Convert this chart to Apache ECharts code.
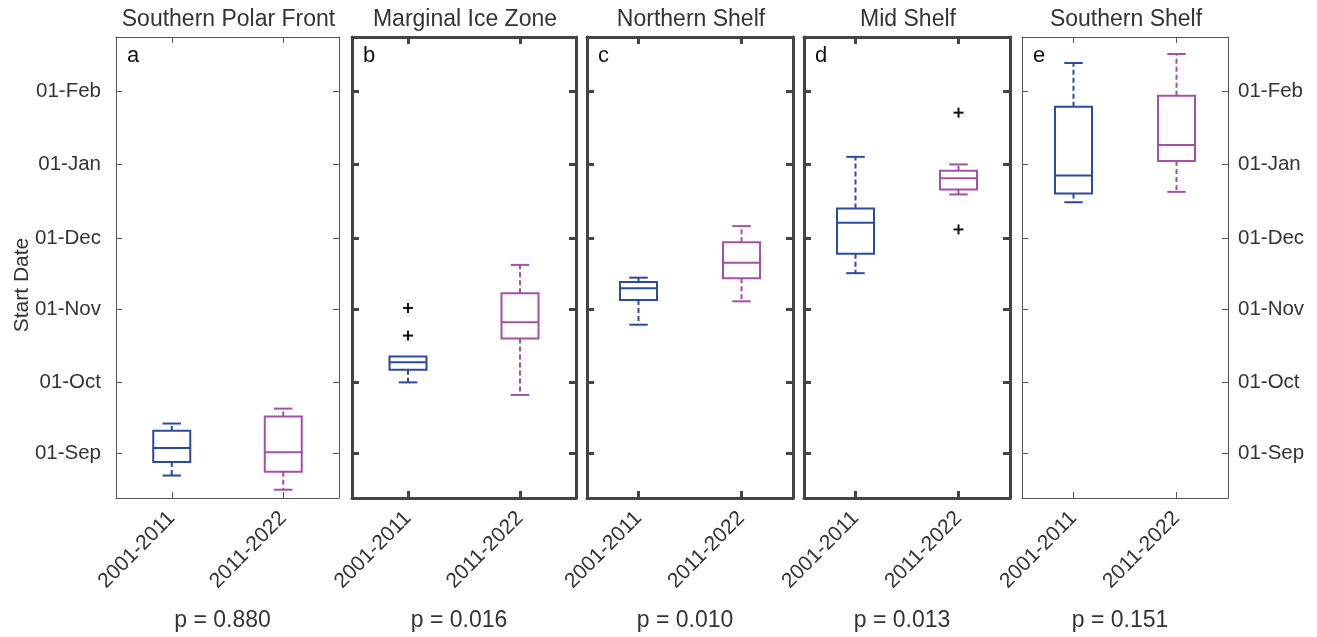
<!DOCTYPE html>
<html>
<head>
<meta charset="utf-8">
<script src="https://cdn.jsdelivr.net/npm/echarts@6/dist/echarts.min.js"></script>
<style>
html,body{margin:0;padding:0;background:#fff;}
#chart{width:1317px;height:637px;}
</style>
</head>
<body>
<div id="chart"></div>
<script>
// ---------- data ----------
const categories = ['2001-2011', '2011-2022'];
const panelTitles = ['Southern Polar Front', 'Marginal Ice Zone', 'Northern Shelf', 'Mid Shelf', 'Southern Shelf'];
const panelLetters = ['a', 'b', 'c', 'd', 'e'];
const pValues = ['p = 0.880', 'p = 0.016', 'p = 0.010', 'p = 0.013', 'p = 0.151'];
// y values are days after 01-Sep
const tickDays = [0, 30, 61, 91, 122, 153];
const tickLabels = ['01-Sep', '01-Oct', '01-Nov', '01-Dec', '01-Jan', '01-Feb'];
// box stats: [min whisker, Q1, median, Q3, max whisker]
const spfEarly = [-9.5, -3.8, 2.2, 9.4, 12.5];
const spfLate = [-15.5, -7.9, 0.3, 15.5, 18.8];
const mizEarly = [29.9, 35.3, 38.4, 40.9, 40.9];
const mizLate = [24.6, 48.5, 55.3, 67.6, 79.6];
const nsEarly = [54.3, 64.8, 69.7, 72.4, 74.2];
const nsLate = [64.2, 73.9, 80.5, 89.2, 96.0];
const msEarly = [76.1, 84.3, 97.4, 103.5, 125.3];
const msLate = [109.4, 111.5, 116.2, 119.4, 122.1];
const ssEarly = [106.1, 109.8, 117.4, 146.5, 165.0];
const ssLate = [110.5, 123.5, 130.3, 151.2, 168.8];
// outliers: [category index, day]
const mizOutliers = [[0, 61.4], [0, 49.7]];
const msOutliers = [[1, 144.0], [1, 94.6]];

const panelBoxes = [
  [spfEarly, spfLate],
  [mizEarly, mizLate],
  [nsEarly, nsLate],
  [msEarly, msLate],
  [ssEarly, ssLate]
];
const panelOutliers = [[], mizOutliers, [], msOutliers, []];

// ---------- layout / style ----------
const boxColors = ['#2c4a9e', '#a54fa6'];
const panelLeft = [116, 352, 587, 804, 1022];
const panelWidth = [223, 224, 206, 206, 206];
const panelTop = 37, panelHeight = 461;
const thick = [false, true, true, true, false];
const yMin = -19, yMax = 176;
const FONT = '"Liberation Sans", Arial, Helvetica, sans-serif';
const textColor = '#333333';
const BOX_W = 37;

function renderBox(params, api) {
  const xi = api.value(0);
  const pMin = api.coord([xi, api.value(1)]);
  const pQ1 = api.coord([xi, api.value(2)]);
  const pMed = api.coord([xi, api.value(3)]);
  const pQ3 = api.coord([xi, api.value(4)]);
  const pMax = api.coord([xi, api.value(5)]);
  const color = boxColors[xi];
  const cx = pMed[0];
  const hw = BOX_W / 2, cw = BOX_W / 4;
  const solid = {stroke: color, lineWidth: 2, fill: null};
  const dashed = {stroke: color, lineWidth: 2, fill: null, lineDash: [5, 3]};
  const children = [];
  if (pMax[1] < pQ3[1] - 0.5) {
    children.push({type: 'line', shape: {x1: cx, y1: pQ3[1], x2: cx, y2: pMax[1]}, style: dashed});
    children.push({type: 'line', shape: {x1: cx - cw, y1: pMax[1], x2: cx + cw, y2: pMax[1]}, style: solid});
  }
  if (pMin[1] > pQ1[1] + 0.5) {
    children.push({type: 'line', shape: {x1: cx, y1: pQ1[1], x2: cx, y2: pMin[1]}, style: dashed});
    children.push({type: 'line', shape: {x1: cx - cw, y1: pMin[1], x2: cx + cw, y2: pMin[1]}, style: solid});
  }
  children.push({type: 'rect', shape: {x: cx - hw, y: pQ3[1], width: BOX_W, height: pQ1[1] - pQ3[1]}, style: solid});
  children.push({type: 'line', shape: {x1: cx - hw, y1: pMed[1], x2: cx + hw, y2: pMed[1]}, style: solid});
  return {type: 'group', children: children};
}

function renderPlus(params, api) {
  const p = api.coord([api.value(0), api.value(1)]);
  const s = 5;
  const st = {stroke: '#111', lineWidth: 2};
  return {type: 'group', children: [
    {type: 'line', shape: {x1: p[0] - s, y1: p[1], x2: p[0] + s, y2: p[1]}, style: st},
    {type: 'line', shape: {x1: p[0], y1: p[1] - s, x2: p[0], y2: p[1] + s}, style: st}
  ]};
}

function tickLabel(v) {
  let best = 0;
  for (let i = 0; i < tickDays.length; i++) {
    if (Math.abs(tickDays[i] - v) < Math.abs(tickDays[best] - v)) best = i;
  }
  return tickLabels[best];
}

const grids = [], xAxes = [], yAxes = [], series = [], graphics = [];
for (let i = 0; i < 5; i++) {
  const lw = thick[i] ? 3 : 1;
  const lc = thick[i] ? '#444444' : '#555555';
  const tl = thick[i] ? 7 : 6;
  grids.push({left: panelLeft[i], top: panelTop, width: panelWidth[i], height: panelHeight, containLabel: false});
  const lineStyle = {color: lc, width: lw};
  xAxes.push({
    type: 'category', gridIndex: i, data: categories, position: 'bottom', boundaryGap: true,
    axisLine: {show: true, onZero: false, lineStyle: lineStyle},
    axisTick: {show: true, inside: true, alignWithLabel: true, length: tl, lineStyle: lineStyle},
    axisLabel: {show: true, rotate: 45, fontSize: 21, fontFamily: FONT, color: textColor, margin: 17, interval: 0},
    splitLine: {show: false}
  });
  xAxes.push({
    type: 'category', gridIndex: i, data: categories, position: 'top', boundaryGap: true,
    axisLine: {show: true, onZero: false, lineStyle: lineStyle},
    axisTick: {show: true, inside: true, alignWithLabel: true, length: tl, lineStyle: lineStyle},
    axisLabel: {show: false},
    splitLine: {show: false}
  });
  yAxes.push({
    type: 'value', gridIndex: i, position: 'left', min: yMin, max: yMax,
    axisLine: {show: true, onZero: false, lineStyle: lineStyle},
    axisTick: {show: true, inside: true, length: tl, lineStyle: lineStyle, customValues: tickDays},
    axisLabel: {show: i === 0, customValues: tickDays, formatter: tickLabel, fontSize: 20.5, fontFamily: FONT, color: textColor, margin: 15},
    splitLine: {show: false}
  });
  yAxes.push({
    type: 'value', gridIndex: i, position: 'right', min: yMin, max: yMax,
    axisLine: {show: true, onZero: false, lineStyle: lineStyle},
    axisTick: {show: true, inside: true, length: tl, lineStyle: lineStyle, customValues: tickDays},
    axisLabel: {show: i === 4, customValues: tickDays, formatter: tickLabel, fontSize: 20.5, fontFamily: FONT, color: textColor, margin: 10},
    splitLine: {show: false}
  });
  series.push({
    type: 'custom', xAxisIndex: 2 * i, yAxisIndex: 2 * i, silent: true, z: 5,
    data: panelBoxes[i].map((b, k) => [k].concat(b)),
    encode: {x: 0, y: [1, 2, 3, 4, 5]},
    renderItem: renderBox
  });
  if (panelOutliers[i].length) {
    series.push({
      type: 'custom', xAxisIndex: 2 * i, yAxisIndex: 2 * i, silent: true, z: 6,
      data: panelOutliers[i],
      encode: {x: 0, y: 1},
      renderItem: renderPlus
    });
  }
  const cxp = panelLeft[i] + panelWidth[i] / 2;
  graphics.push({type: 'text', x: cxp + 1, y: 20, style: {text: panelTitles[i], font: '23px ' + FONT, fill: textColor, align: 'center', verticalAlign: 'middle'}});
  graphics.push({type: 'text', x: panelLeft[i] + 11, y: 45, style: {text: panelLetters[i], font: '22px ' + FONT, fill: '#111', align: 'left', verticalAlign: 'top'}});
  graphics.push({type: 'text', x: cxp - 5, y: 621, style: {text: pValues[i], font: '23px ' + FONT, fill: textColor, align: 'center', verticalAlign: 'middle'}});
}
graphics.push({type: 'text', x: 22, y: 285, rotation: Math.PI / 2, style: {text: 'Start Date', font: '21px ' + FONT, fill: textColor, align: 'center', verticalAlign: 'middle'}});

const chart = echarts.init(document.getElementById('chart'), null, {renderer: 'canvas'});
chart.setOption({
  backgroundColor: '#ffffff',
  animation: false,
  grid: grids,
  xAxis: xAxes,
  yAxis: yAxes,
  series: series,
  graphic: graphics
});
</script>
</body>
</html>
